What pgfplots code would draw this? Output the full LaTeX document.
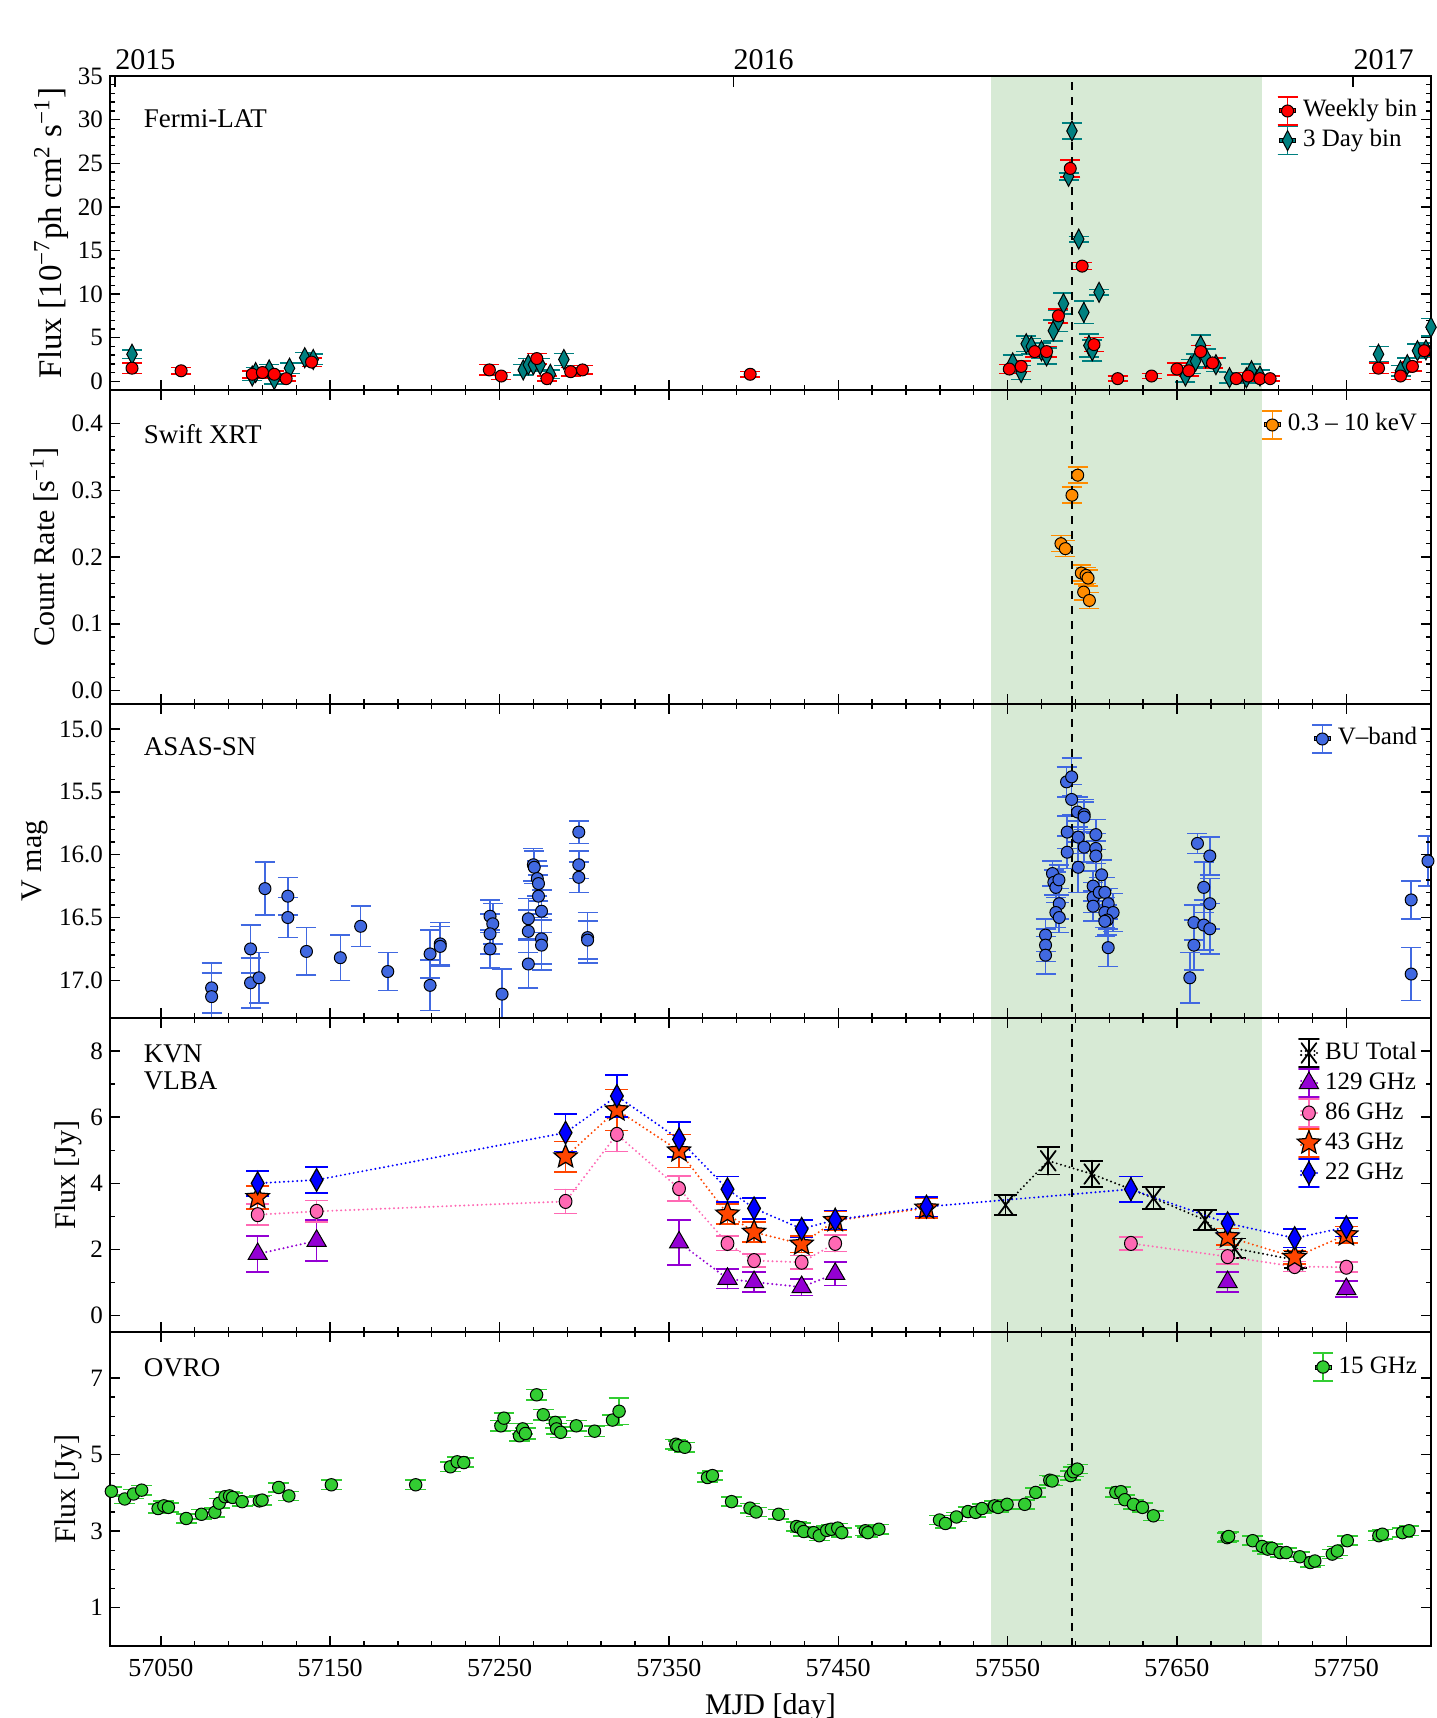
\documentclass[border=0pt]{standalone}
\usepackage{fontspec}
\setmainfont{Liberation Serif}
\usepackage{pgfplots}
\pgfplotsset{compat=1.18}
\usepackage{pgfplotstable}

\definecolor{flarebg}{RGB}{215,234,213}
\definecolor{fred}{RGB}{255,0,0}
\definecolor{fteal}{RGB}{0,128,128}
\definecolor{sorange}{RGB}{255,140,0}
\definecolor{vblue}{RGB}{65,105,225}
\definecolor{kb}{RGB}{0,0,255}
\definecolor{ko}{RGB}{255,69,0}
\definecolor{kp}{RGB}{255,105,180}
\definecolor{kv}{RGB}{148,0,211}
\definecolor{og}{RGB}{50,205,50}

\pgfdeclareplotmark{fstar}{%
  \pgfpathmoveto{\pgfpointpolar{90}{\pgfplotmarksize}}%
  \pgfpathlineto{\pgfpointpolar{126}{0.45\pgfplotmarksize}}%
  \pgfpathlineto{\pgfpointpolar{162}{\pgfplotmarksize}}%
  \pgfpathlineto{\pgfpointpolar{198}{0.45\pgfplotmarksize}}%
  \pgfpathlineto{\pgfpointpolar{234}{\pgfplotmarksize}}%
  \pgfpathlineto{\pgfpointpolar{270}{0.45\pgfplotmarksize}}%
  \pgfpathlineto{\pgfpointpolar{306}{\pgfplotmarksize}}%
  \pgfpathlineto{\pgfpointpolar{342}{0.45\pgfplotmarksize}}%
  \pgfpathlineto{\pgfpointpolar{18}{\pgfplotmarksize}}%
  \pgfpathlineto{\pgfpointpolar{54}{0.45\pgfplotmarksize}}%
  \pgfpathclose
  \pgfusepathqfillstroke
}

\tikzset{lbl/.style={anchor=west, inner sep=0pt, font=\fontsize{13.5}{14}\selectfont}}

\pgfplotsset{
  panel/.style={
    scale only axis, width=660.5pt, height=157pt,
    xmin=57020, xmax=57800,
    xtick={57050,57150,57250,57350,57450,57550,57650,57750},
    minor x tick num=4,
    xticklabels={},
    scaled x ticks=false,
    axis on top,
    axis line style={line width=1pt},
    every tick/.style={black, line width=0.7pt},
    major tick length=5pt, minor tick length=2.5pt,
    tick align=inside,
    scaled y ticks=false,
    /pgf/number format/assume math mode=true,
    yticklabel style={font=\fontsize{12.5}{13}\selectfont},
    ylabel style={font=\fontsize{15}{16}\selectfont, anchor=center},
    legend cell align=left,
    legend style={draw=none, fill=none, inner sep=0pt, outer sep=0pt,
      at={(1,1)}, anchor=north east, xshift=-7pt, yshift=-11.5pt,
      row sep=2.8pt, column sep=3.5pt,
      font=\fontsize{12.5}{13}\selectfont,
      nodes={inner sep=0pt, text height=9pt, text depth=3pt}},
  },
  eb/.style 2 args={error bars/y dir=both, error bars/y explicit,
     error bars/error bar style={#1, line width=0.8pt, solid},
     error bars/error mark options={rotate=90, #1, mark size=#2, line width=0.8pt, solid}},
  leg/.style 2 args={legend image code/.code={%
     \path (-4pt,-1pt) rectangle (4pt,1pt);
     \draw[#1, line width=0.8pt, solid, overlay] (0pt,-7pt) -- (0pt,7pt) (-5pt,-7pt) -- (5pt,-7pt) (-5pt,7pt) -- (5pt,7pt);
     \draw[overlay, solid, #2] plot coordinates {(0pt,0pt)};}},
  kline/.style={dash pattern=on 0pt off 2.2pt, line cap=round, line width=1.1pt},
}

\newcommand{\region}[2]{%
  \fill[flarebg] (axis cs:57540,#1) rectangle (axis cs:57700,#2);}
\newcommand{\flare}[2]{%
  \draw[black, line width=1pt, dash pattern=on 4pt off 3.5pt] (axis cs:57588,#1) -- (axis cs:57588,#2);}

% ---------------- data ----------------
\pgfplotstableread{
x y e
57033 1.5 0.6
57062 1.2 0.4
57104 0.8 0.4
57110 1.0 0.4
57117 0.8 0.4
57124 0.3 0.3
57139 2.2 0.5
57244 1.3 0.6
57251 0.6 0.4
57272 2.6 0.6
57278 0.3 0.3
57292 1.1 0.5
57299 1.3 0.5
57398 0.8 0.3
57551 1.4 0.5
57558 1.7 0.6
57566 3.4 0.6
57573 3.4 0.6
57580 7.5 0.8
57587 24.4 1.0
57594 13.2 0.4
57601 4.2 0.8
57615 0.3 0.3
57635 0.6 0.3
57650 1.4 0.7
57657 1.2 0.6
57664 3.4 0.7
57671 2.1 0.6
57685 0.3 0.3
57692 0.6 0.4
57699 0.3 0.3
57705 0.3 0.3
57769 1.5 0.6
57782 0.6 0.4
57789 1.7 0.5
57796 3.5 0.6
}\fermiW

\pgfplotstableread{
x y e
57033 3.1 0.5
57104 0.6 0.5
57106 1.0 0.6
57114 1.3 0.6
57117 0.2 0.5
57126 1.5 0.6
57135 2.7 0.6
57140 2.5 0.6
57264 1.3 0.6
57267 1.9 0.7
57270 1.9 0.7
57274 1.9 0.7
57280 0.8 0.5
57288 2.5 0.7
57553 2.1 0.9
57558 1.0 0.8
57561 4.3 0.9
57564 4.0 0.9
57570 3.5 0.9
57573 2.9 0.9
57577 5.8 1.2
57580 6.9 1.2
57583 8.9 1.2
57586 23.5 0.4
57588 28.7 0.9
57592 16.3 0.3
57595 7.9 1.3
57598 4.1 1.3
57600 3.5 1.2
57604 10.2 0.3
57655 0.6 0.7
57658 1.7 0.8
57661 2.3 0.8
57664 4.1 1.2
57667 2.7 1.0
57673 1.9 0.8
57681 0.4 0.6
57691 0.4 0.6
57694 1.2 0.8
57699 0.6 0.7
57769 3.1 0.9
57782 1.2 0.6
57786 1.9 0.8
57792 3.5 0.8
57797 3.6 0.8
57800 6.2 1.0
}\fermiD

\pgfplotstableread{
x y e
57581.5 0.2200 0.012
57584.1 0.2125 0.012
57588.0 0.2925 0.012
57591.4 0.3225 0.012
57593.5 0.1760 0.012
57594.9 0.1475 0.012
57596.3 0.1725 0.012
57597.5 0.1685 0.012
57598.3 0.1350 0.012
}\swift

\pgfplotstableread{
x y e
57080 17.06 0.20
57080 17.13 0.19
57103 16.75 0.19
57103 17.02 0.20
57108 16.98 0.20
57111.5 16.27 0.21
57125 16.33 0.15
57125 16.50 0.16
57136 16.77 0.19
57156 16.82 0.18
57168 16.57 0.16
57184 16.93 0.15
57209 16.79 0.19
57209 17.04 0.20
57215 16.71 0.17
57215 16.73 0.16
57244.4 16.49 0.13
57246 16.55 0.16
57244.4 16.63 0.16
57244.4 16.75 0.15
57251.5 17.11 0.20
57267 16.51 0.16
57267 16.61 0.17
57267 16.87 0.19
57270 16.08 0.13
57270.5 16.10 0.13
57272.3 16.19 0.14
57273 16.23 0.14
57273 16.33 0.17
57274.8 16.45 0.17
57274.8 16.67 0.20
57274.8 16.72 0.20
57296.8 15.82 0.09
57296.8 16.08 0.11
57296.8 16.18 0.12
57302 16.66 0.20
57302 16.68 0.15
57572.4 16.64 0.13
57572.4 16.72 0.13
57572.4 16.80 0.15
57576.5 16.15 0.10
57577.3 16.22 0.10
57578.5 16.26 0.12
57580.3 16.20 0.12
57580.5 16.39 0.12
57578.5 16.46 0.12
57580.5 16.50 0.12
57584.8 15.42 0.12
57587.8 15.38 0.15
57587.8 15.56 0.12
57585.2 15.82 0.13
57585.2 15.98 0.13
57591.3 15.66 0.12
57591.7 15.86 0.13
57591.7 16.10 0.20
57595.2 15.68 0.12
57595.2 15.70 0.12
57595.2 15.94 0.12
57602.1 15.84 0.12
57602.1 15.95 0.12
57602.1 16.01 0.12
57605.5 16.16 0.12
57600.5 16.25 0.12
57600.5 16.34 0.12
57600.5 16.41 0.12
57604.1 16.30 0.12
57607.4 16.30 0.12
57609.4 16.39 0.12
57607.4 16.46 0.12
57612.3 16.46 0.15
57608.8 16.52 0.12
57607.4 16.53 0.12
57609.4 16.74 0.15
57657.6 16.98 0.20
57660 16.54 0.14
57660 16.72 0.20
57662.1 15.91 0.08
57665.8 16.26 0.20
57665.8 16.56 0.20
57669.4 16.01 0.15
57669.4 16.39 0.20
57669.4 16.59 0.20
57788.3 16.36 0.15
57788.3 16.95 0.21
57798.2 16.05 0.20
}\asas

\pgfplotstableread{
x y e
57548.8 3.34 0.30
57574.0 4.68 0.42
57599.7 4.28 0.40
57636.1 3.55 0.33
57666.6 2.89 0.30
57684.0 2.03 0.30
57719.8 1.68 0.25
}\kbu

\pgfplotstableread{
x y e
57107.2 1.86 0.55
57142.0 2.26 0.62
57200 nan nan
57356.0 2.21 0.68
57384.6 1.11 0.30
57400.3 1.01 0.30
57428.4 0.86 0.25
57448.2 1.26 0.35
57500 nan nan
57679.9 1.01 0.30
57700 nan nan
57750.0 0.80 0.25
}\kcxxix

\pgfplotstableread{
x y e
57107.2 3.05 0.32
57142.0 3.15 0.33
57289.0 3.45 0.36
57319.3 5.48 0.52
57356.0 3.84 0.38
57384.6 2.18 0.22
57400.3 1.66 0.20
57428.4 1.61 0.20
57448.2 2.18 0.25
57500 nan nan
57622.8 2.18 0.20
57679.9 1.78 0.22
57719.5 1.48 0.15
57750.0 1.46 0.15
}\klxxxvi

\pgfplotstableread{
x y e
57107.2 3.57 0.35
57200 nan nan
57289.0 4.80 0.46
57319.3 6.22 0.62
57356.0 4.98 0.50
57384.6 3.07 0.30
57400.3 2.52 0.30
57428.4 2.16 0.25
57448.2 2.87 0.29
57502.1 3.25 0.30
57600 nan nan
57679.9 2.38 0.25
57719.5 1.76 0.20
57750.0 2.44 0.25
}\kxliii

\pgfplotstableread{
x y e
57107.2 4.00 0.38
57142.0 4.10 0.40
57289.0 5.53 0.57
57319.3 6.64 0.64
57356.0 5.33 0.53
57384.6 3.82 0.38
57400.3 3.24 0.32
57428.4 2.62 0.26
57448.2 2.89 0.29
57502.1 3.29 0.30
57622.8 3.82 0.38
57679.9 2.79 0.28
57719.5 2.34 0.28
57750.0 2.67 0.28
}\kxxii

\pgfplotstableread{
x y e
57020.8 4.04 0.12
57028.7 3.84 0.12
57033.9 3.97 0.12
57038.7 4.07 0.12
57048.4 3.59 0.12
57051.8 3.66 0.12
57054.5 3.62 0.12
57065.0 3.33 0.12
57074.0 3.44 0.12
57081.9 3.49 0.12
57084.5 3.73 0.12
57087.9 3.90 0.12
57090.6 3.92 0.12
57092.4 3.88 0.12
57098.0 3.77 0.12
57108.2 3.79 0.12
57109.8 3.81 0.12
57119.6 4.14 0.12
57125.6 3.92 0.12
57150.7 4.21 0.12
57200.5 4.21 0.12
57221.0 4.68 0.12
57225.0 4.81 0.12
57228.9 4.79 0.12
57250.8 5.75 0.14
57252.6 5.95 0.14
57261.8 5.49 0.14
57263.7 5.67 0.14
57265.3 5.55 0.14
57271.9 6.56 0.14
57275.8 6.04 0.14
57282.9 5.84 0.14
57283.7 5.67 0.14
57286.1 5.58 0.14
57295.3 5.75 0.14
57306.1 5.61 0.14
57316.7 5.90 0.14
57320.6 6.13 0.35
57354.1 5.27 0.12
57355.4 5.23 0.12
57359.4 5.19 0.12
57372.8 4.40 0.12
57375.7 4.45 0.12
57387.0 3.77 0.12
57397.9 3.60 0.12
57401.5 3.50 0.12
57414.8 3.44 0.12
57425.4 3.12 0.12
57427.5 3.09 0.12
57429.6 2.99 0.12
57435.5 2.96 0.12
57438.8 2.88 0.12
57443.2 3.02 0.12
57445.9 3.05 0.12
57449.7 3.08 0.12
57452.1 2.96 0.12
57466.0 3.01 0.12
57467.5 2.96 0.12
57474.0 3.05 0.12
57509.8 3.29 0.12
57513.3 3.20 0.12
57519.8 3.37 0.12
57526.6 3.51 0.12
57531.1 3.49 0.12
57534.9 3.59 0.12
57542.3 3.66 0.12
57544.4 3.62 0.12
57549.7 3.70 0.12
57560.1 3.70 0.12
57566.6 4.01 0.12
57574.9 4.33 0.12
57576.3 4.31 0.12
57587.3 4.45 0.12
57588.8 4.55 0.12
57591.1 4.62 0.12
57613.9 4.01 0.12
57616.9 4.03 0.12
57619.2 3.82 0.12
57624.3 3.70 0.12
57629.6 3.62 0.12
57636.1 3.40 0.12
57679.6 2.83 0.12
57680.5 2.86 0.12
57694.7 2.75 0.12
57700.3 2.60 0.12
57703.6 2.53 0.12
57706.2 2.55 0.12
57710.9 2.44 0.12
57714.5 2.44 0.12
57722.5 2.33 0.12
57728.7 2.18 0.12
57731.4 2.22 0.12
57741.7 2.40 0.12
57744.7 2.48 0.12
57750.6 2.75 0.12
57769.2 2.88 0.12
57771.3 2.92 0.12
57783.1 2.96 0.12
57787.0 3.01 0.12
}\ovro

\begin{document}
\begin{tikzpicture}
\useasboundingbox (0pt,0pt) rectangle (718pt,859pt);

% ================= Panel 1: Fermi-LAT =================
\begin{axis}[panel, at={(55pt,664pt)}, anchor=south west,
  ymin=-1, ymax=35, ytick={0,5,10,15,20,25,30,35}, minor y tick num=4,
  xtick pos=left,
  ylabel={Flux [10\textsuperscript{−7}ph cm\textsuperscript{2} s\textsuperscript{−1}]},
  ylabel style={at={(axis description cs:-0.0443,0.5)}, font=\fontsize{16.5}{17}\selectfont},
  reverse legend]
\region{-1}{35}
\addplot[only marks, mark=diamond*, mark size=5pt, mark options={xscale=0.7}, draw=black, fill=fteal, line width=0.5pt, eb={fteal}{5pt},
  leg={fteal}{mark=diamond*, mark size=5pt, mark options={xscale=0.7, fill=fteal, draw=black, line width=0.5pt}}]
  table[x=x, y=y, y error=e] \fermiD;
\addlegendentry{3 Day bin}
\addplot[only marks, mark=*, mark size=3pt, draw=black, fill=fred, line width=0.5pt, eb={fred}{5pt},
  leg={fred}{mark=*, mark size=3pt, mark options={fill=fred, draw=black, line width=0.5pt}}]
  table[x=x, y=y, y error=e] \fermiW;
\addlegendentry{Weekly bin}
\flare{-1}{35}
\node[lbl] at (axis description cs:0.0254,0.863) {Fermi-LAT};
\end{axis}

% year axis on top
\begin{axis}[at={(55pt,664pt)}, anchor=south west, scale only axis, width=660.5pt, height=157pt,
  xmin=57020, xmax=57800, ymin=0, ymax=1, scaled x ticks=false,
  axis x line=top, axis y line=none, x axis line style={-}, axis line style={line width=1pt},
  xtick={57023,57388,57754}, xticklabels={2015,2016,2017},
  major tick length=5.5pt, tick align=inside, every tick/.style={black, line width=0.7pt},
  xticklabel style={anchor=south west, inner sep=0pt, yshift=3pt, font=\fontsize{15}{16}\selectfont}]
\addplot[draw=none] coordinates {(57100,0.5)};
\end{axis}

% ================= Panel 2: Swift XRT =================
\begin{axis}[panel, at={(55pt,507pt)}, anchor=south west,
  ymin=-0.02, ymax=0.45, ytick={0,0.1,0.2,0.3,0.4}, minor y tick num=4,
  y tick label style={/pgf/number format/fixed, /pgf/number format/fixed zerofill, /pgf/number format/precision=1},
  ylabel={Count Rate [s\textsuperscript{−1}]},
  ylabel style={at={(axis description cs:-0.05,0.5)}}]
\region{-0.02}{0.45}
\addplot[only marks, mark=*, mark size=3pt, draw=black, fill=sorange, line width=0.5pt, eb={sorange}{5pt},
  leg={sorange}{mark=*, mark size=3pt, mark options={fill=sorange, draw=black, line width=0.5pt}}]
  table[x=x, y=y, y error=e] \swift;
\addlegendentry{0.3 – 10 keV}
\flare{-0.02}{0.45}
\node[lbl] at (axis description cs:0.0254,0.86) {Swift XRT};
\end{axis}

% ================= Panel 3: ASAS-SN =================
\begin{axis}[panel, at={(55pt,350pt)}, anchor=south west,
  y dir=reverse, ymin=14.8, ymax=17.3, ytick={15,15.5,16,16.5,17}, minor y tick num=4,
  y tick label style={/pgf/number format/fixed, /pgf/number format/fixed zerofill, /pgf/number format/precision=1},
  ylabel={V mag},
  ylabel style={at={(axis description cs:-0.0571,0.5)}}]
\region{14.8}{17.3}
\addplot[only marks, mark=*, mark size=3pt, draw=black, fill=vblue, line width=0.5pt, eb={vblue}{5pt},
  leg={vblue}{mark=*, mark size=3pt, mark options={fill=vblue, draw=black, line width=0.5pt}}]
  table[x=x, y=y, y error=e] \asas;
\addlegendentry{V–band}
\flare{14.8}{17.3}
\node[lbl] at (axis description cs:0.0254,0.863) {ASAS-SN};
\end{axis}

% ================= Panel 4: KVN / VLBA =================
\begin{axis}[panel, at={(55pt,193pt)}, anchor=south west,
  ymin=-0.5, ymax=9, ytick={0,2,4,6,8}, minor y tick num=1,
  unbounded coords=jump,
  ylabel={Flux [Jy]},
  ylabel style={at={(axis description cs:-0.0318,0.5)}},
  legend style={row sep=3pt}]
\region{-0.5}{9}
\addplot[black, kline, mark=x, mark size=7pt, mark options={solid, xscale=0.75, line width=0.9pt}, eb={black}{5.8pt},
  leg={black}{mark=x, mark size=7pt, mark options={xscale=0.75, line width=0.9pt, draw=black}}]
  table[x=x, y=y, y error=e] \kbu;
\addlegendentry{BU Total}
\addplot[color=kv, kline, mark=triangle*, mark size=5.5pt, mark options={solid, fill=kv, draw=black, line width=0.5pt}, eb={kv}{5.8pt},
  leg={kv}{mark=triangle*, mark size=5.5pt, mark options={fill=kv, draw=black, line width=0.5pt}}]
  table[x=x, y=y, y error=e] \kcxxix;
\addlegendentry{129 GHz}
\addplot[color=kp, kline, mark=*, mark size=3.2pt, mark options={solid, yscale=1.1, fill=kp, draw=black, line width=0.5pt}, eb={kp}{5.8pt},
  leg={kp}{mark=*, mark size=3.2pt, mark options={yscale=1.1, fill=kp, draw=black, line width=0.5pt}}]
  table[x=x, y=y, y error=e] \klxxxvi;
\addlegendentry{86 GHz}
\addplot[color=ko, kline, mark=fstar, mark size=6.1pt, mark options={solid, fill=ko, draw=black, line width=0.6pt}, eb={ko}{5.8pt},
  leg={ko}{mark=fstar, mark size=6.1pt, mark options={fill=ko, draw=black, line width=0.6pt}}]
  table[x=x, y=y, y error=e] \kxliii;
\addlegendentry{43 GHz}
\addplot[color=kb, kline, mark=diamond*, mark size=5.7pt, mark options={solid, xscale=0.75, fill=kb, draw=black, line width=0.6pt}, eb={kb}{5.8pt},
  leg={kb}{mark=diamond*, mark size=5.7pt, mark options={xscale=0.75, fill=kb, draw=black, line width=0.6pt}}]
  table[x=x, y=y, y error=e] \kxxii;
\addlegendentry{22 GHz}
\flare{-0.5}{9}
\node[lbl, align=left, font=\fontsize{13.5}{13.3}\selectfont] at (axis description cs:0.0254,0.8425) {KVN\\VLBA};
\end{axis}

% ================= Panel 5: OVRO =================
\begin{axis}[panel, at={(55pt,36pt)}, anchor=south west,
  ymin=0, ymax=8.2, ytick={1,3,5,7}, minor y tick num=3,
  xticklabels={57050,57150,57250,57350,57450,57550,57650,57750},
  xticklabel style={font=\fontsize{13}{14}\selectfont, yshift=-3pt},
  xlabel={MJD [day]},
  xlabel style={at={(axis description cs:0.5,0)}, anchor=base, yshift=-34.4pt, font=\fontsize{15}{16}\selectfont},
  ylabel={Flux [Jy]},
  ylabel style={at={(axis description cs:-0.0318,0.5)}}]
\region{0}{8.2}
\addplot[only marks, mark=*, mark size=3.1pt, draw=black, fill=og, line width=0.5pt, eb={og}{5.2pt},
  leg={og}{mark=*, mark size=3.1pt, mark options={fill=og, draw=black, line width=0.5pt}}]
  table[x=x, y=y, y error=e] \ovro;
\addlegendentry{15 GHz}
\flare{0}{8.2}
\node[lbl] at (axis description cs:0.0254,0.886) {OVRO};
\end{axis}

\end{tikzpicture}
\end{document}
